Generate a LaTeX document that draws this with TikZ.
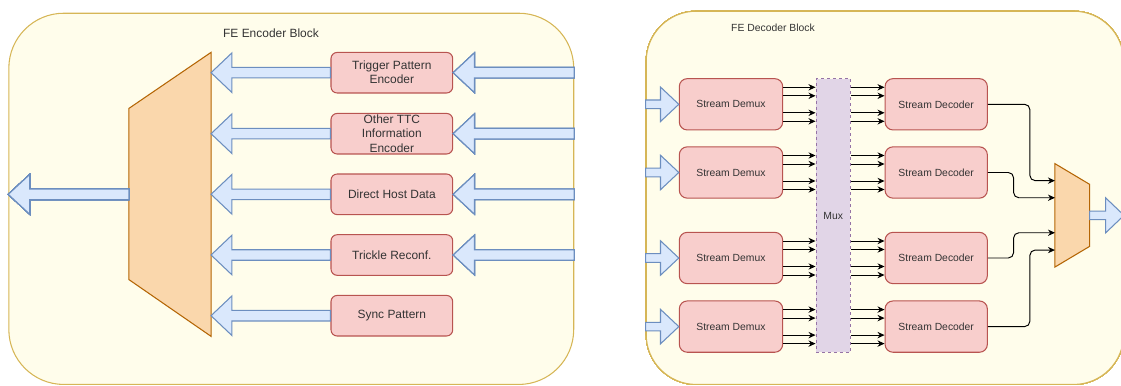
\documentclass[tikz,border=0pt]{standalone}
\usepackage{fontspec}
\setmainfont{Liberation Sans}
\usetikzlibrary{calc,arrows.meta}
\definecolor{blkfill}{HTML}{FFFDEB}
\definecolor{blkline}{HTML}{D6B656}
\definecolor{redfill}{HTML}{F8CECC}
\definecolor{redline}{HTML}{B85450}
\definecolor{bluefill}{HTML}{DAE8FC}
\definecolor{blueline}{HTML}{6C8EBF}
\definecolor{orfill}{HTML}{FAD7AC}
\definecolor{orline}{HTML}{B46504}
\definecolor{purfill}{HTML}{E1D5E7}
\definecolor{purline}{HTML}{9673A6}
\definecolor{txt}{HTML}{333333}
\tikzset{
  blk/.style={draw=blkline, fill=blkfill, line width=0.6pt, rounded corners=#1, inner sep=0pt},
  box/.style={draw=redline, fill=redfill, line width=0.6pt, text=txt, align=center, inner sep=0pt},
  fat/.style={draw=blueline, fill=bluefill, line width=0.6pt},
  mx/.style={draw=orline, fill=orfill, line width=0.6pt},
  sig/.style={-{Stealth[length=4pt,width=3.6pt]}, line width=0.55pt},
  encfont/.style={font=\fontsize{6.8}{8}\selectfont},
  decfont/.style={font=\fontsize{5.9}{7}\selectfont},
}
% block arrow: tail, tip, shaft half width, head half width, head length
\newcommand{\fatarrow}[5]{\draw[fat] let \p1=(#1), \p2=(#2), \n1={sign(\x2-\x1)} in
  (\x1,\y2+#3) -- (\x2-\n1*#5,\y2+#3) -- (\x2-\n1*#5,\y2+#4) -- (\x2,\y2)
  -- (\x2-\n1*#5,\y2-#4) -- (\x2-\n1*#5,\y2-#3) -- (\x1,\y2-#3) -- cycle;}
\begin{document}
\begin{tikzpicture}[x=0.02cm,y=-0.02cm]
\useasboundingbox (0,0) rectangle (1121,385);
% encoder side
\node[blk=1.1cm, minimum width=11.3cm, minimum height=7.426cm, anchor=north west] (encblk) at (8.3,12.7) {};
\node[text=txt, encfont] (enctitle) at (271,33.3) {FE Encoder Block};
\node[minimum width=1.628cm, minimum height=5.666cm, inner sep=0pt] (encmux) at (170,194.35) {};
\draw[mx] (encmux.north east) -- (encmux.south east) -- ([shift={(0,-56.7)}]encmux.south west) -- ([shift={(0,56)}]encmux.north west) -- cycle;
\foreach \b/\y/\t in {trig/72.7/{Trigger Pattern\\Encoder}, ttc/133.7/{Other TTC\\Information\\Encoder}, host/194.3/{Direct Host Data}, trick/255/{Trickle Reconf.}, sync/315.7/{Sync Pattern}}
  \node[box, encfont, rounded corners=3.5pt, minimum width=2.434cm, minimum height=0.812cm] (\b) at (391.85,\y) {\t};
\foreach \b in {trig,ttc,host,trick,sync} \fatarrow{\b.west}{encmux.east |- \b.west}{3pt}{11.3pt}{11.9pt}
\foreach \b in {trig,ttc,host,trick} \fatarrow{encblk.east |- \b.east}{\b.east}{3pt}{11.3pt}{12.1pt}
\fatarrow{encmux.west}{encblk.west |- encmux.west}{3pt}{11.3pt}{12.2pt}
% decoder side
\node[blk=1cm, minimum width=9.55cm, minimum height=7.466cm, anchor=north west] (decblk) at (645.7,10.7) {};
\node[text=txt, decfont] (dectitle) at (773,27.7) {FE Decoder Block};
\node[draw=purline, fill=purfill, line width=0.6pt, dash pattern=on 1.7pt off 1.7pt, text=txt, decfont, inner sep=0pt, minimum width=0.686cm, minimum height=5.472cm] (mux) at (833.2,215.5) {Mux};
\foreach \i/\y in {1/104.3,2/172.5,3/258,4/326.6} {
  \node[box, decfont, rounded corners=4.5pt, minimum width=2.068cm, minimum height=1.026cm] (dmx\i) at (731,\y) {Stream Demux};
  \node[box, decfont, rounded corners=4.5pt, minimum width=2.046cm, minimum height=1.026cm] (dec\i) at (936.2,\y) {Stream Decoder};
  \fatarrow{decblk.west |- dmx\i.west}{dmx\i.west}{2.45pt}{9.8pt}{10.4pt}
  \foreach \o in {-17,-8.5,8.5,17} {
    \draw[sig] ($(dmx\i.east)+(0,\o)$) -- ($(mux.west |- dmx\i.east)+(0,\o)$);
    \draw[sig] ($(mux.east |- dec\i.west)+(0,\o)$) -- ($(dec\i.west)+(0,\o)$);
  }
}
\node[minimum width=0.68cm, minimum height=2.054cm, inner sep=0pt] (omux) at (1072.3,215.35) {};
\draw[mx] (omux.north west) -- ([shift={(0,20.7)}]omux.north east) -- ([shift={(0,-20.7)}]omux.south east) -- (omux.south west) -- cycle;
\draw[sig, rounded corners=3pt] (dec1.east) -- ++(42,0) |- ($(omux.west)+(0,-34.7)$);
\draw[sig, rounded corners=3pt] (dec2.east) -- ++(25.7,0) |- ($(omux.west)+(0,-17.6)$);
\draw[sig, rounded corners=3pt] (dec3.east) -- ++(25.7,0) |- ($(omux.west)+(0,17.4)$);
\draw[sig, rounded corners=3pt] (dec4.east) -- ++(42,0) |- ($(omux.west)+(0,34.7)$);
\coordinate (decout) at (1124,215.35);
\fatarrow{omux.east}{decout}{2.45pt}{10pt}{10.5pt}
\end{tikzpicture}
\end{document}
